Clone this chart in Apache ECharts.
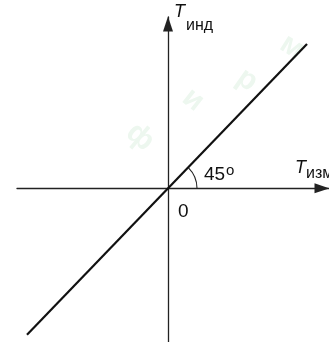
<!DOCTYPE html>
<html>
<head>
<meta charset="utf-8">
<script src="https://cdn.jsdelivr.net/npm/echarts@6/dist/echarts.min.js"></script>
<style>
  html, body { margin: 0; padding: 0; background: #fff; }
  #chart { width: 329px; height: 342px; }
</style>
</head>
<body>
<div id="chart"></div>
<script>
// характеристика: T_инд = T_изм (прямая под 45°)
const tIzm = [-141, 139]
const tInd = [-141, 139]
const angleDeg = 45
const xRange = [-151, 161]
const yRange = [-148, 165]
const watermark = ['ф', 'и', 'р', 'м']

const chart = echarts.init(document.getElementById('chart'))

const font = '"Liberation Sans", Arial, sans-serif'
const axisColor = '#222'

const axisCommon = {
  type: 'value',
  axisTick: { show: false },
  axisLabel: { show: false },
  splitLine: { show: false },
  axisLine: {
    onZero: true,
    symbol: ['none', 'triangle'],
    symbolSize: [10, 15],
    symbolOffset: [0, -7],
    lineStyle: { color: axisColor, width: 1.3 },
  },
}

// водяной знак
const wmPos = [[140, 137, -40], [193, 100, -38], [247, 80, -35], [292, 47, -32]]
const wmGraphics = watermark.map((ch, i) => ({
  type: 'text',
  x: wmPos[i][0],
  y: wmPos[i][1],
  rotation: (wmPos[i][2] * Math.PI) / 180,
  z: -10,
  style: {
    text: ch,
    font: 'bold 30px ' + font,
    fill: '#edf7ef',
    align: 'center',
    verticalAlign: 'middle',
  },
}))

function label(text, x, y, size, italic) {
  return {
    type: 'text',
    x: x,
    y: y,
    z: 10,
    style: {
      text: text,
      font: (italic ? 'italic ' : '') + size + 'px ' + font,
      fill: '#111',
      align: 'left',
      verticalAlign: 'middle',
    },
  }
}

chart.setOption({
  animation: false,
  grid: { left: 17, right: 0, top: 17, bottom: 0 },
  xAxis: Object.assign({}, axisCommon, { min: xRange[0], max: xRange[1] }),
  yAxis: Object.assign({}, axisCommon, { min: yRange[0], max: yRange[1] }),
  graphic: wmGraphics.concat([
    label('T', 174, 12, 18, true),
    label('инд', 186, 26, 16, false),
    label('T', 295, 168, 18, true),
    label('изм', 306, 174, 16, false),
    label('45', 204, 175, 19, false),
    label('o', 226, 171, 15, false),
    label('0', 178, 212, 19, false),
  ]),
  series: [
    {
      type: 'line',
      data: tIzm.map((v, i) => [v, tInd[i]]),
      symbol: 'none',
      lineStyle: { color: '#111', width: 2.2 },
      z: 5,
    },
    {
      type: 'custom',
      data: [[0, 0]],
      renderItem: function (params, api) {
        const c = api.coord([api.value(0), api.value(1)])
        return {
          type: 'arc',
          shape: {
            cx: c[0],
            cy: c[1],
            r: 29,
            startAngle: (-angleDeg * Math.PI) / 180,
            endAngle: 0,
          },
          style: { stroke: axisColor, fill: null, lineWidth: 1.1 },
        }
      },
      z: 4,
    },
  ],
})
</script>
</body>
</html>
